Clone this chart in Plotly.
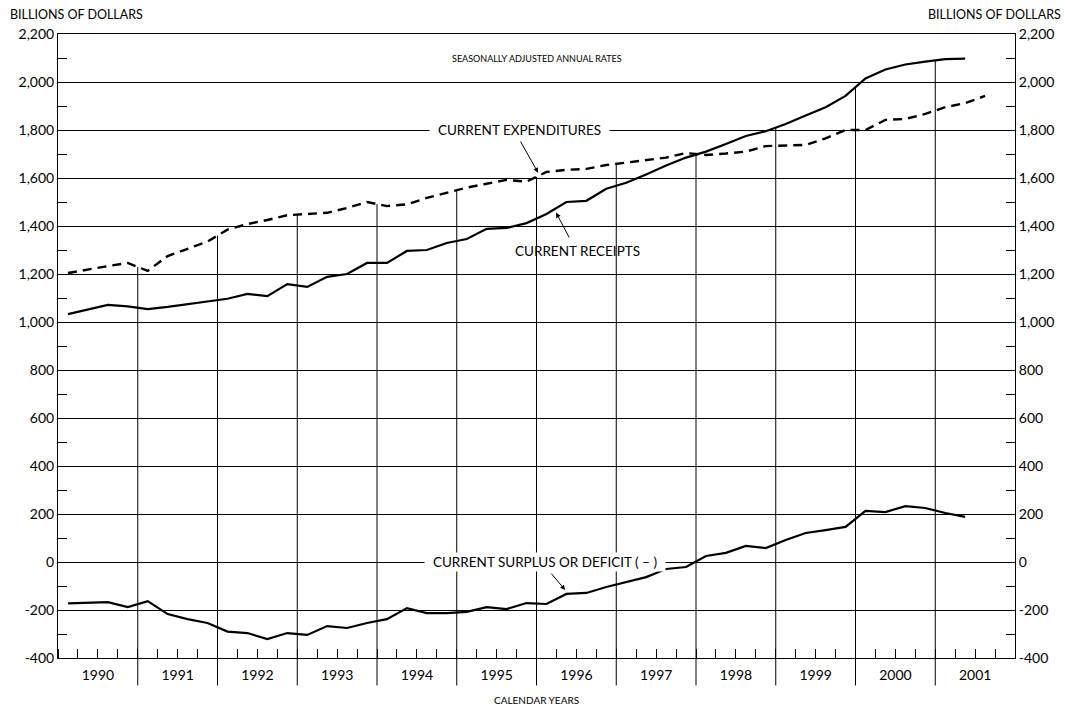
import numpy as np
import plotly.graph_objects as go

# quarterly observations, 1990Q1 onward (billions of dollars, SAAR)
years = list(range(1990, 2002))
quarters = [f"{y}Q{q}" for y in years for q in range(1, 5)]

receipts = [1033, 1052, 1071, 1065, 1054, 1063, 1075, 1086, 1097, 1117, 1108, 1158,
            1146, 1188, 1200, 1246, 1246, 1296, 1300, 1329, 1346, 1388, 1392, 1412,
            1450, 1500, 1505, 1555, 1580, 1615, 1652, 1685, 1710, 1742, 1775, 1795,
            1825, 1860, 1895, 1942, 2015, 2052, 2073, 2085, 2095, 2097]
expenditures = [1204, 1220, 1233, 1246, 1213, 1275, 1305, 1335, 1385, 1408, 1425, 1445,
                1450, 1455, 1475, 1500, 1483, 1490, 1517, 1540, 1560, 1576, 1592, 1585,
                1625, 1634, 1638, 1654, 1664, 1675, 1685, 1704, 1696, 1702, 1710, 1733,
                1735, 1738, 1765, 1800, 1800, 1842, 1846, 1867, 1895, 1912, 1942]
surplus = [-172, -171, -167, -188, -163, -217, -238, -254, -290, -296, -321, -296,
           -304, -267, -275, -254, -238, -192, -213, -213, -208, -188, -196, -171,
           -175, -133, -129, -104, -83, -63, -29, -21, 25, 38, 67, 58,
           92, 121, 133, 146, 213, 208, 233, 225, 204, 188]

ytick_vals = list(range(-400, 2201, 200))
ytick_text = [f"{v:,}" for v in ytick_vals]


def qpos(label):
    y, q = label.split("Q")
    return int(y) + (int(q) - 0.5) / 4


xr = [qpos(q) for q in quarters[:len(receipts)]]
xe = [qpos(q) for q in quarters[:len(expenditures)]]
xs = [qpos(q) for q in quarters[:len(surplus)]]

FONT = "Lato, 'Noto Sans', sans-serif"

fig = go.Figure()
fig.add_trace(go.Scatter(x=xe, y=expenditures, mode="lines", name="Current expenditures",
                         line=dict(color="black", width=2.4, dash="9px,6px")))
fig.add_trace(go.Scatter(x=xr, y=receipts, mode="lines", name="Current receipts",
                         line=dict(color="black", width=2.2)))
fig.add_trace(go.Scatter(x=xs, y=surplus, mode="lines", name="Current surplus or deficit",
                         line=dict(color="black", width=2.2), yaxis="y2"))

# year separators: from below the axis up to the higher curve
shapes = []
for yr in years[1:]:
    top = max(np.interp(yr, xr, receipts), np.interp(yr, xe, expenditures))
    shapes.append(dict(type="line", xref="x", yref="y", x0=yr, x1=yr, y0=-400, y1=top,
                       line=dict(color="black", width=1)))
    shapes.append(dict(type="line", xref="x", yref="paper", x0=yr, x1=yr, y0=0, y1=-0.044,
                       line=dict(color="black", width=1)))

pad = "\u00a0\u00a0"
annotations = [
    dict(text="BILLIONS OF DOLLARS", xref="paper", yref="paper", x=-0.052, y=1.032,
         xanchor="left", yanchor="middle", showarrow=False, font=dict(size=12.5)),
    dict(text="BILLIONS OF DOLLARS", xref="paper", yref="paper", x=1.05, y=1.032,
         xanchor="right", yanchor="middle", showarrow=False, font=dict(size=12.5)),
    dict(text="SEASONALLY ADJUSTED ANNUAL RATES", xref="paper", yref="paper", x=0.5, y=0.973,
         showarrow=False, font=dict(size=9)),
    dict(text="CALENDAR YEARS", xref="paper", yref="paper", x=0.5, y=-0.0673,
         yanchor="middle", showarrow=False, font=dict(size=10)),
    dict(text=pad + "CURRENT EXPENDITURES" + pad, x=1995.79, y=1800, showarrow=False,
         bgcolor="white", borderpad=1, font=dict(size=13.5)),
    dict(text="CURRENT RECEIPTS", x=1996.51, y=1296, showarrow=False, font=dict(size=13.5)),
    dict(text=pad + "CURRENT SURPLUS OR DEFICIT ( \u2013 )" + pad, x=1996.11, y=0,
         showarrow=False, bgcolor="white", borderpad=1, font=dict(size=13.5)),
    dict(text="", x=1996.02, y=1622, ax=1995.79, ay=1758, axref="x", ayref="y",
         showarrow=True, arrowhead=2, arrowsize=1, arrowwidth=1, arrowcolor="black"),
    dict(text="", x=1996.245, y=1456, ax=1996.42, ay=1346, axref="x", ayref="y",
         showarrow=True, arrowhead=2, arrowsize=1, arrowwidth=1, arrowcolor="black"),
    dict(text="", x=1996.36, y=-117, ax=1996.17, ay=-42, axref="x", ayref="y",
         showarrow=True, arrowhead=2, arrowsize=1, arrowwidth=1, arrowcolor="black"),
]

yaxis_common = dict(
    range=[-400, 2200], tickvals=ytick_vals, ticktext=ytick_text, ticks="",
    tickfont=dict(size=14), showline=True, linecolor="black", linewidth=1,
    zeroline=False,
    minor=dict(tickvals=list(range(-300, 2200, 200)), ticks="inside", ticklen=9,
               tickcolor="black", tickwidth=1, showgrid=False),
)

fig.update_layout(
    width=1065, height=709,
    margin=dict(l=58, r=50, t=34, b=51),
    paper_bgcolor="white", plot_bgcolor="white",
    font=dict(family=FONT, color="black"),
    showlegend=False,
    xaxis=dict(range=[1990, 2002], tickvals=[y + 0.5 for y in years],
               ticktext=[str(y) for y in years], ticks="", tickfont=dict(size=14),
               ticklabelstandoff=4, showgrid=False, zeroline=False,
               showline=True, linecolor="black", linewidth=1, mirror=True,
               minor=dict(tick0=1990, dtick=0.25, ticks="inside", ticklen=9,
                          tickcolor="black", tickwidth=1, showgrid=False)),
    yaxis=dict(**yaxis_common, showgrid=True, gridcolor="black", gridwidth=1),
    yaxis2=dict(**yaxis_common, overlaying="y", side="right", showgrid=False),
    shapes=shapes,
    annotations=annotations,
)

fig.write_html("out.html", config={"displayModeBar": False},
               post_script="document.body.style.margin='0';document.body.style.overflow='hidden';")
